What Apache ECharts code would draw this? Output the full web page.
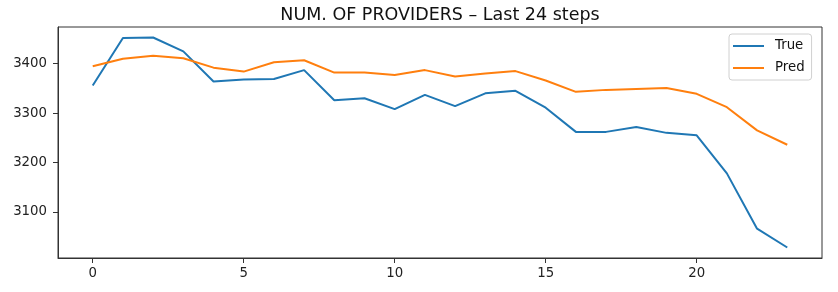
<!DOCTYPE html>
<html>
<head>
<meta charset="utf-8">
<script src="https://cdn.jsdelivr.net/npm/echarts@6/dist/echarts.min.js"></script>
<style>
html,body{margin:0;padding:0;background:#fff;}
#c{width:838px;height:292px;}
</style>
</head>
<body>
<div id="c"></div>
<script>
var steps = [0,1,2,3,4,5,6,7,8,9,10,11,12,13,14,15,16,17,18,19,20,21,22,23];
var trueVals = [3356,3452,3453,3425,3364,3368,3369,3387,3326,3330,3308,3337,3314,3340,3345,3311,3262,3262,3272,3260,3255,3178,3066,3028];
var predVals = [3395,3410,3416,3411,3392,3384,3403,3407,3382,3382,3377,3387,3374,3380,3385,3366,3343,3347,3349,3351,3339,3312,3265,3236];
var xTicks = [0,5,10,15,20];
var yTicks = [3100,3200,3300,3400];
var titleText = 'NUM. OF PROVIDERS \u2013 Last 24 steps';

function pairs(vals){ return steps.map(function(s,i){ return [s, vals[i]]; }); }
var all = trueVals.concat(predVals);
var dmin = Math.min.apply(null, all), dmax = Math.max.apply(null, all);
var dr = dmax - dmin;
var xr = steps[steps.length-1] - steps[0];

var font = 'DejaVu Sans';
var chart = echarts.init(document.getElementById('c'), null, {renderer:'canvas'});
chart.setOption({
  animation:false,
  backgroundColor:'#fff',
  title:{
    text:titleText, left:435, top:1, textAlign:'center',
    textStyle:{fontFamily:font, fontSize:17.5, fontWeight:'normal', color:'#111'}
  },
  legend:{
    data:['True','Pred'], orient:'vertical', left:729, top:34,
    icon:'rect', itemWidth:31, itemHeight:2, itemGap:8,
    padding:[5,7,5,4],
    borderColor:'#d0d0d0', borderWidth:1, borderRadius:3,
    backgroundColor:'rgba(255,255,255,0.8)',
    textStyle:{fontFamily:font, fontSize:13.3, color:'#111', padding:[0,0,0,6], lineHeight:14}
  },
  grid:{left:58, right:16, top:27, bottom:34, show:true, borderColor:'#333', borderWidth:1, backgroundColor:'transparent'},
  xAxis:{
    type:'value', min:steps[0]-0.05*xr, max:steps[steps.length-1]+0.05*xr,
    splitLine:{show:false},
    axisLine:{show:true, onZero:false, lineStyle:{color:'#333', width:1}},
    axisTick:{show:true, length:5, customValues:xTicks, lineStyle:{color:'#333'}},
    axisLabel:{customValues:xTicks, margin:9, fontFamily:font, fontSize:13.3, color:'#222', formatter:function(v){return String(v);}}
  },
  yAxis:{
    type:'value', min:dmin-0.05*dr, max:dmax+0.05*dr,
    splitLine:{show:false},
    axisLine:{show:true, onZero:false, lineStyle:{color:'#333', width:1}},
    axisTick:{show:true, length:5, customValues:yTicks, lineStyle:{color:'#333'}},
    axisLabel:{customValues:yTicks, margin:11, fontFamily:font, fontSize:13.3, color:'#222', formatter:function(v){return String(v);}}
  },
  series:[
    {name:'True', type:'line', data:pairs(trueVals), showSymbol:false, symbol:'none', color:'#1f77b4', lineStyle:{width:2, color:'#1f77b4'}},
    {name:'Pred', type:'line', data:pairs(predVals), showSymbol:false, symbol:'none', color:'#ff7f0e', lineStyle:{width:2, color:'#ff7f0e'}}
  ]
});
</script>
</body>
</html>
